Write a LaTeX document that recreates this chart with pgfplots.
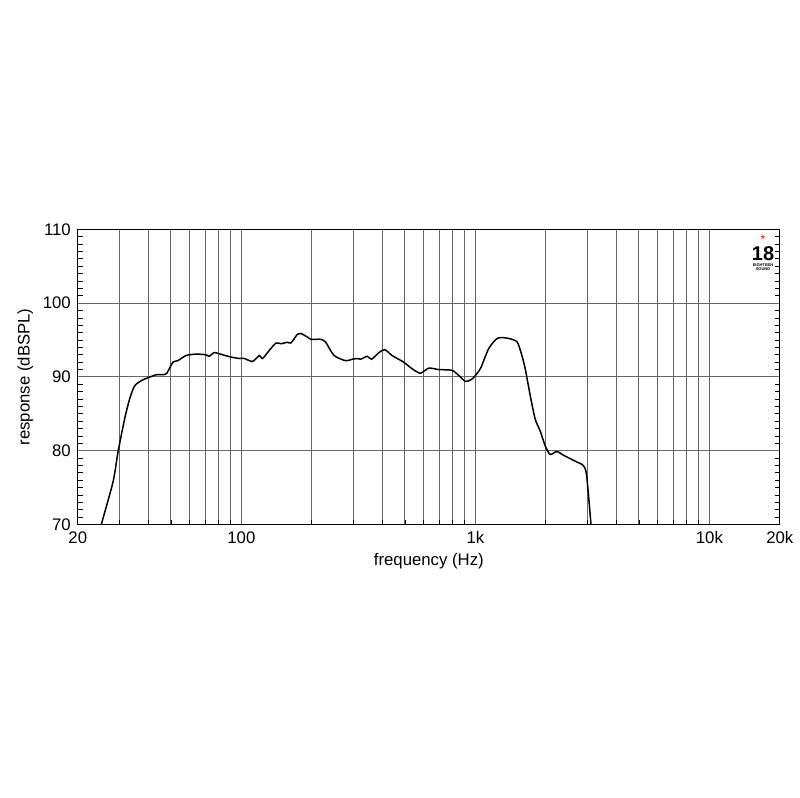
\documentclass[border=0pt]{standalone}
\usepackage{pgfplots}
\pgfplotsset{compat=1.18}
\usepackage{fontspec}
\setmainfont{Liberation Sans}
\begin{document}
\begin{tikzpicture}
\begin{axis}[
  scale only axis,
  width=352pt, height=148pt,
  xmode=log,
  xmin=20, xmax=20000,
  ymin=70, ymax=110,
  xtick={20,100,1000,10000,20000},
  xticklabels={20,100,1k,10k,20k},
  minor xtick={30,40,50,60,70,80,90,200,300,400,500,600,700,800,900,2000,3000,4000,5000,6000,7000,8000,9000},
  ytick={70,80,90,100,110},
  minor y tick num=9,
  xmajorgrids, xminorgrids, ymajorgrids,
  grid style={black!60, line width=0.5pt},
  minor grid style={black!60, line width=0.5pt},
  xtick pos=bottom,
  tick align=inside,
  major tick length=0pt,
  minor tick length=2.5pt,
  every tick/.style={black, line width=0.4pt},
  axis line style={black, line width=0.6pt},
  tick label style={font=\fontsize{8.4}{10}\selectfont},
  label style={font=\fontsize{8.4}{10}\selectfont},
  /pgf/number format/assume math mode=true,
  xlabel={frequency (Hz)},
  ylabel={response (dBSPL)},
  xlabel style={yshift=2pt},
  ylabel style={yshift=-2pt},
  clip=true,
]
\addplot[black, line width=0.75pt, smooth, tension=0.4] coordinates {
(24.8,69) (25.2,70) (28.3,75.8) (29.7,79.8) (31.7,84.3) (33.3,87.0) (35.0,88.8)
(37.9,89.6) (43.3,90.3) (46.2,90.3) (48.0,90.5) (51.0,92.0) (53.5,92.2)
(58.0,92.9) (64.1,93.1) (70.6,93.0) (72.9,92.8) (76.7,93.3) (83.2,93.0)
(90.3,92.7) (98.0,92.5) (103,92.5) (111.6,92.1) (119.3,92.9) (123.2,92.5)
(131.6,93.6) (140.6,94.6) (147.6,94.5) (157.5,94.7) (162.8,94.6) (173.8,95.8)
(179.5,95.9) (191.6,95.4) (198,95.1) (218.5,95.1) (229.4,94.7) (248.9,92.9)
(279.3,92.2) (298,92.4) (313,92.5) (323,92.4) (345,92.8) (360,92.4)
(387,93.3) (410,93.7) (441,92.9) (494,92.0) (537,91.1) (582,90.5)
(632,91.2) (697,91.0) (794,90.9) (849,90.2) (906,89.4) (966,89.7)
(1049,91.1) (1138,93.8) (1236,95.2) (1342,95.3) (1503,94.8) (1580,92.9)
(1633,91.1) (1715,87.5) (1800,84.3) (1891,82.7) (1986,80.7) (2085,79.5)
(2227,79.9) (2378,79.4) (2665,78.6) (2892,78.0) (2986,76.7) (3117,70.1) (3130,69)
};
\coordinate (sw) at (rel axis cs:0,0);
\coordinate (ne) at (rel axis cs:1,1);
\node[text=red, font=\fontsize{6}{6}\selectfont, inner sep=0pt] at (rel axis cs:0.976,0.965) {*};
\node[font=\bfseries\fontsize{10}{10}\selectfont, inner sep=0pt] at (rel axis cs:0.976,0.918) {18};
\node[font=\fontsize{2}{2.2}\selectfont, inner sep=0pt, align=center] at (rel axis cs:0.976,0.872) {\textbf{EIGHTEEN}\\\textbf{SOUND}};
\end{axis}
\useasboundingbox ([shift={(-39pt,-137pt)}]sw) rectangle ([shift={(9pt,115pt)}]ne);
\end{tikzpicture}
\end{document}
